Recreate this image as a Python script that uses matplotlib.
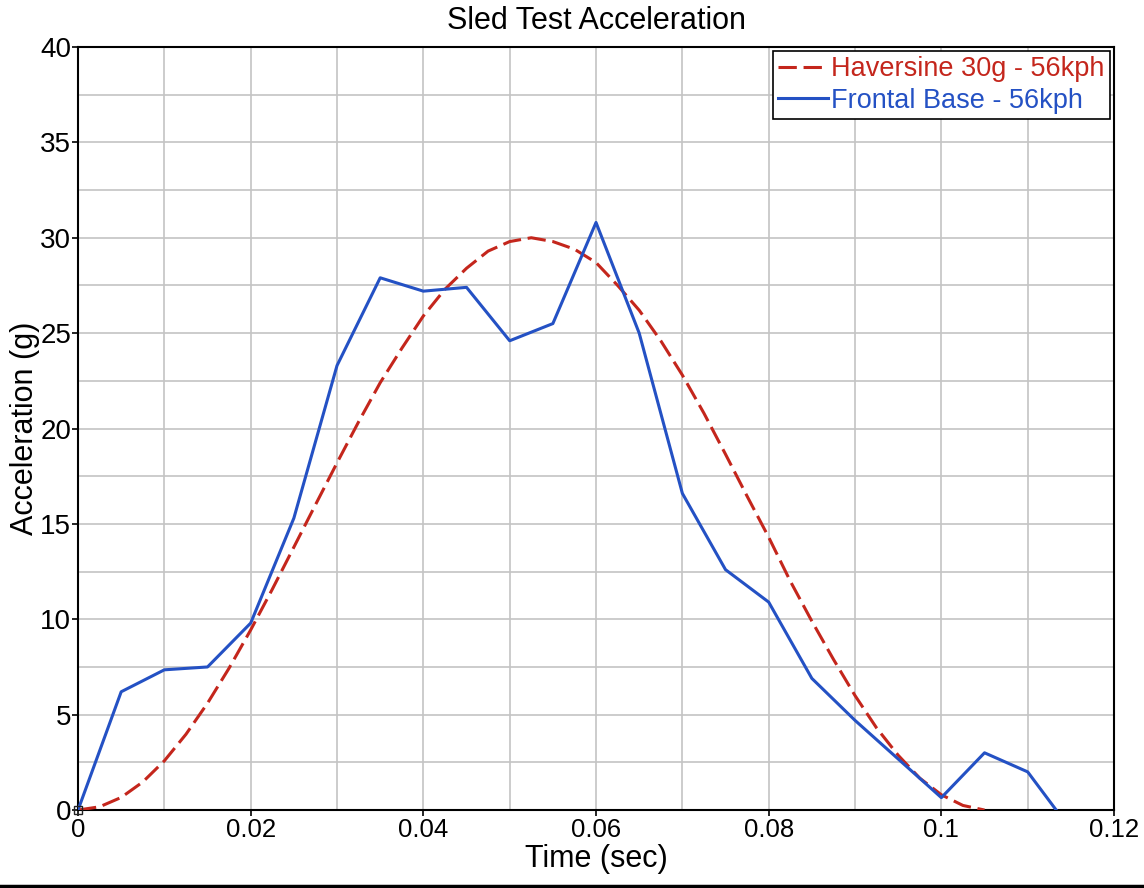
import matplotlib
matplotlib.use("Agg")
import matplotlib.pyplot as plt
from matplotlib.lines import Line2D

plt.rcParams['font.family'] = ['Liberation Sans', 'DejaVu Sans']

# haversine pulse, every 2.5 ms
hav_t = [0, 0.0025, 0.005, 0.0075, 0.01, 0.0125, 0.015, 0.0175, 0.02, 0.0225,
         0.025, 0.0275, 0.03, 0.0325, 0.035, 0.0375, 0.04, 0.0425, 0.045, 0.0475,
         0.05, 0.0525, 0.055, 0.0575, 0.06, 0.0625, 0.065, 0.0675, 0.07, 0.0725,
         0.075, 0.0775, 0.08, 0.0825, 0.085, 0.0875, 0.09, 0.0925, 0.095, 0.0975,
         0.1, 0.1025, 0.105]
hav_g = [0, 0.17, 0.66, 1.47, 2.58, 3.97, 5.6, 7.44, 9.44, 11.57,
         13.78, 16.0, 18.2, 20.35, 22.4, 24.2, 25.9, 27.3, 28.4, 29.3,
         29.8, 30.0, 29.8, 29.4, 28.7, 27.5, 26.2, 24.6, 22.8, 20.8,
         18.65, 16.45, 14.3, 12.0, 9.9, 7.9, 6.0, 4.3, 2.87, 1.67,
         0.8, 0.24, 0.0]

# frontal base sled pulse
base_t = [0, 0.005, 0.01, 0.015, 0.02, 0.025, 0.03, 0.035, 0.04, 0.045, 0.05,
          0.055, 0.06, 0.065, 0.07, 0.075, 0.08, 0.085, 0.09, 0.1, 0.105, 0.11, 0.1133]
base_g = [0, 6.2, 7.35, 7.5, 9.8, 15.3, 23.3, 27.9, 27.2, 27.4, 24.6,
          25.5, 30.8, 25.0, 16.6, 12.6, 10.9, 6.9, 4.7, 0.65, 3.0, 2.0, 0]

red = '#c4261c'
blue = '#2451c4'

fig = plt.figure(figsize=(11.44, 8.88), dpi=100)
ax = fig.add_axes([0.0682, 0.0878, 0.9056, 0.8593])

ax.plot(hav_t, hav_g, color=red, lw=2.2, dashes=(6, 2.2), label='Haversine 30g - 56kph', zorder=3)
ax.plot(base_t, base_g, color=blue, lw=2.2, label='Frontal Base - 56kph', zorder=4)
# little square marker sitting at the origin
ax.plot(base_t[:1], base_g[:1], ls='none', marker='s', ms=6, mfc='none', mec='#222222',
        mew=1.0, zorder=5, clip_on=False)

ax.set_xlim(0, 0.12)
ax.set_ylim(0, 40)
ax.set_xticks([0, 0.02, 0.04, 0.06, 0.08, 0.1, 0.12])
ax.set_xticklabels(['0', '0.02', '0.04', '0.06', '0.08', '0.1', '0.12'])
ax.set_yticks([0, 5, 10, 15, 20, 25, 30, 35, 40])
ax.set_xticks([i * 0.01 for i in range(13)], minor=True)
ax.set_yticks([i * 2.5 for i in range(17)], minor=True)
ax.grid(which='both', color='#c4c4c4', lw=1.2)
ax.set_axisbelow(True)
ax.tick_params(which='major', direction='out', length=4, width=1.2)
ax.tick_params(axis='x', labelsize=18.5, pad=2)
ax.tick_params(axis='y', labelsize=20, pad=1)
ax.tick_params(which='minor', length=0)
for s in ax.spines.values():
    s.set_linewidth(1.5)
    s.set_color('black')

ax.set_title('Sled Test Acceleration', fontsize=22, pad=13)
ax.set_xlabel('Time (sec)', fontsize=22, labelpad=1)
ax.set_ylabel('Acceleration (g)', fontsize=22, labelpad=0)

leg = ax.legend(loc='upper right', fontsize=19.5, handlelength=1.85, handletextpad=0.1,
                borderaxespad=0.15, borderpad=0.2, labelspacing=0.2,
                fancybox=False, framealpha=1, edgecolor='black')
leg.get_frame().set_linewidth(1.2)
leg.texts[0].set_color(red)
leg.texts[1].set_color(blue)

fig.add_artist(Line2D([0, 1], [0.0023, 0.0023], color='black', lw=2.5, transform=fig.transFigure))

fig.savefig('out.png', dpi=100)
